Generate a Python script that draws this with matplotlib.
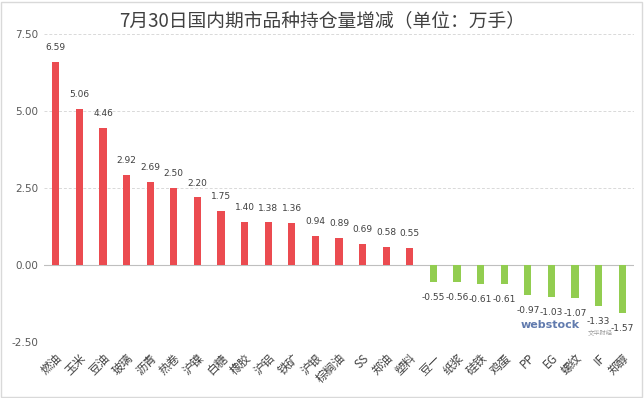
"""Bar chart of open-interest changes by domestic futures product, 7/30."""

import matplotlib
matplotlib.use("Agg")
import matplotlib.pyplot as plt
from matplotlib.patches import Rectangle
import numpy as np

plt.rcParams["font.family"] = ["Noto Sans CJK SC", "DejaVu Sans"]

products = ["燃油", "玉米", "豆油", "玻璃", "沥青", "热卷", "沪镍", "白糖", "橡胶",
            "沪铝", "铁矿", "沪银", "棕榈油", "SS", "郑油", "塑料", "豆一", "纸浆",
            "硅铁", "鸡蛋", "PP", "EG", "螺纹", "IF", "郑醇"]
changes = [6.59, 5.06, 4.46, 2.92, 2.69, 2.50, 2.20, 1.75, 1.40,
           1.38, 1.36, 0.94, 0.89, 0.69, 0.58, 0.55, -0.55, -0.56,
           -0.61, -0.61, -0.97, -1.03, -1.07, -1.33, -1.57]
yticks = [-2.5, 0.0, 2.5, 5.0, 7.5]

RED = "#EB4B50"
GREEN = "#92CD50"
TEXT = "#404040"

fig = plt.figure(figsize=(6.44, 3.98), dpi=100)
ax = fig.add_axes([44 / 644, 1 - 342 / 398, 590 / 644, 308 / 398])

x = np.arange(len(products))
colors = [RED if v >= 0 else GREEN for v in changes]
ax.bar(x, changes, width=0.3, color=colors, zorder=3)

# data labels above / below bars
for xi, v in zip(x, changes):
    off = 7 if v >= 0 else -8
    ax.annotate(f"{v:.2f}", xy=(xi, v), xytext=(0, off), textcoords="offset points",
                ha="center", va="bottom" if v >= 0 else "top",
                fontsize=6.5, color=TEXT, family=["DejaVu Sans"])

ax.set_xlim(-0.5, len(products) - 0.5)
ax.set_ylim(-2.5, 7.5)
ax.set_yticks(yticks)
ax.set_yticklabels([f"{t:.2f}" for t in yticks], fontsize=7.5, color="#595959",
                   family=["DejaVu Sans"])
ax.set_xticks(x)
ax.set_xticklabels(products, rotation=45, ha="right", rotation_mode="anchor",
                   fontsize=8.5, color=TEXT)
ax.tick_params(axis="x", length=0, pad=7)
ax.tick_params(axis="y", length=0, pad=4)

for t in yticks:
    if t == 0:
        ax.axhline(0, color="#BFBFBF", lw=0.8, zorder=2)
    else:
        ax.axhline(t, color="#D9D9D9", lw=0.7, ls=(0, (3, 2)), zorder=1)

for s in ax.spines.values():
    s.set_visible(False)

fig.text(0.5, 1 - 21 / 398, "7月30日国内期市品种持仓量增减（单位：万手）",
         ha="center", va="center", fontsize=13.5, color="#404040")

# watermark
ax.text(19.7, -1.95, "webstock", fontsize=8, fontweight="bold", color="#3A5A9A",
        alpha=0.8, ha="left", va="center", family=["DejaVu Sans"], zorder=4)
ax.text(22.55, -2.2, "文华财经", fontsize=4.5, color="#A0A0A0",
        ha="left", va="center", zorder=4)

# figure border
fig.add_artist(Rectangle((0.002, 0.003), 0.995, 0.993, transform=fig.transFigure,
                         fill=False, edgecolor="#D9D9D9", lw=1))

fig.savefig("out.png", dpi=100)
